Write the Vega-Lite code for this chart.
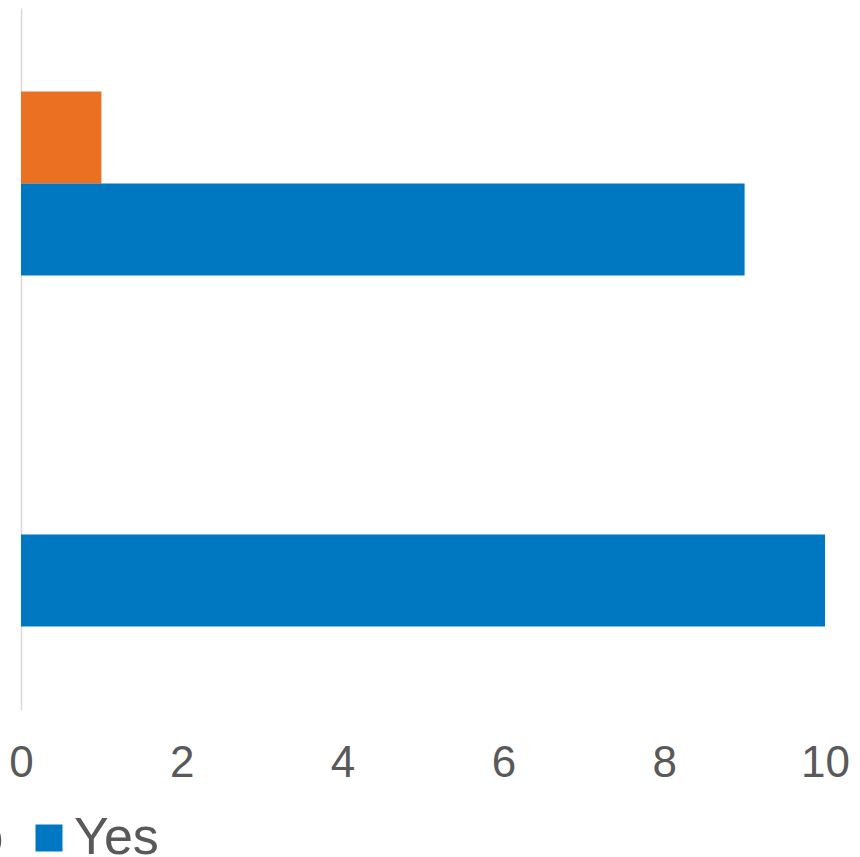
{
  "$schema": "https://vega.github.io/schema/vega-lite/v6.json",
  "autosize": {"type": "none"},
  "padding": {"left": 21, "top": 8, "right": 35, "bottom": 147},
  "width": 804,
  "height": 702,
  "background": "white",
  "data": {"values": [
    {"group": "Group 1", "answer": "No", "count": 1},
    {"group": "Group 1", "answer": "Yes", "count": 9},
    {"group": "Group 2", "answer": "No", "count": 0},
    {"group": "Group 2", "answer": "Yes", "count": 10}
  ]},
  "mark": {"type": "bar", "cornerRadius": 0},
  "encoding": {
    "y": {"field": "group", "type": "nominal", "sort": ["Group 1", "Group 2"],
      "scale": {"paddingInner": 0.476, "paddingOuter": 0.238},
      "axis": {"title": null, "labels": false, "ticks": false, "domainColor": "#d9d9d9", "domainWidth": 1.5, "grid": false}},
    "yOffset": {"field": "answer", "type": "nominal", "sort": ["No", "Yes"], "scale": {"paddingInner": 0, "paddingOuter": 0}},
    "x": {"field": "count", "type": "quantitative",
      "scale": {"domain": [0, 10], "nice": false},
      "axis": {"title": null, "values": [0, 2, 4, 6, 8, 10], "grid": false, "domain": false, "ticks": false, "labelFlush": false,
        "labelFont": "Liberation Sans", "labelFontSize": 44, "labelColor": "#595959", "labelPadding": 31}},
    "color": {"field": "answer", "type": "nominal", "sort": ["No", "Yes"],
      "scale": {"domain": ["No", "Yes"], "range": ["#EB7022", "#0078C1"]},
      "legend": {"title": null, "orient": "none", "direction": "horizontal", "legendX": -135, "legendY": 804,
        "symbolType": "square", "symbolSize": 729, "symbolStrokeWidth": 0, "symbolOpacity": 1,
        "labelFont": "Liberation Sans", "labelFontSize": 52, "labelColor": "#595959", "labelOffset": -1,
        "columnPadding": 19}}
  },
  "config": {"view": {"stroke": null}}
}
